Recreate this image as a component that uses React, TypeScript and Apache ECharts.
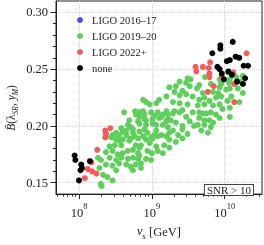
import React, { useEffect, useRef } from "react";
import * as echarts from "echarts";

// ---- axis ticks ----
const xMajorExponents = [8, 9, 10];
const xMinorTickValues = [5e7, 6e7, 7e7, 8e7, 9e7, 2e8, 3e8, 4e8, 5e8, 6e8, 7e8, 8e8, 9e8, 2e9, 3e9, 4e9, 5e9, 6e9, 7e9, 8e9, 9e9, 2e10, 3e10];
const yMajorTicks = [0.15, 0.2, 0.25, 0.3];
const yMinorTicks = [0.16, 0.17, 0.18, 0.19, 0.21, 0.22, 0.23, 0.24, 0.26, 0.27, 0.28, 0.29];
const xRange = [7.684, 10.512]; // log10(v_s / GeV)
const yRange = [0.14, 0.31];

const seriesNames = ["LIGO 2016–17", "LIGO 2019–20", "LIGO 2022+", "none"];
const seriesColors = ["#4b4bf0", "#5fcf5c", "#f45b5b", "#000000"];

// ---- data: [log10(v_s/GeV), B] ----
const ligo1617: number[][] = [];

const ligo1920: number[][] = [
  [8.42, 0.182], [8.49, 0.183], [8.58, 0.183], [8.78, 0.183], [8.83, 0.181],
  [8.37, 0.177], [8.46, 0.178], [8.53, 0.175], [8.60, 0.176], [8.67, 0.178], [8.74, 0.179], [8.81, 0.176],
  [8.26, 0.172], [8.30, 0.170], [8.42, 0.172], [8.51, 0.170], [8.58, 0.172], [8.67, 0.171], [8.74, 0.172], [8.81, 0.171],
  [8.28, 0.163], [8.37, 0.166], [8.46, 0.165], [8.55, 0.167], [8.65, 0.166], [8.71, 0.164], [8.78, 0.166], [8.85, 0.163],
  [8.51, 0.161], [8.74, 0.161],
  [8.33, 0.157], [8.39, 0.155], [8.46, 0.152], [8.30, 0.149], [8.31, 0.147],
  [8.88, 0.223], [8.62, 0.212], [8.78, 0.210], [8.88, 0.213], [8.90, 0.210], [8.99, 0.212], [9.03, 0.209], [9.08, 0.212], [9.20, 0.213], [9.22, 0.210],
  [8.69, 0.205], [8.83, 0.208], [8.90, 0.206], [9.01, 0.206], [9.13, 0.208], [9.22, 0.206],
  [8.67, 0.201], [8.71, 0.199], [8.83, 0.202], [8.92, 0.201], [9.01, 0.202], [9.06, 0.201], [9.15, 0.201], [9.22, 0.199],
  [8.58, 0.198], [8.60, 0.195], [8.51, 0.194], [8.46, 0.192], [8.44, 0.190], [8.55, 0.192], [8.65, 0.192], [8.74, 0.194], [8.76, 0.191], [8.83, 0.195], [8.88, 0.191], [8.94, 0.194], [8.99, 0.190], [9.03, 0.192], [9.08, 0.191], [9.13, 0.192], [9.20, 0.191], [9.24, 0.194],
  [8.51, 0.188], [8.60, 0.188], [8.69, 0.187],
  [9.47, 0.208], [9.26, 0.205], [9.33, 0.203], [9.42, 0.200], [9.52, 0.204], [9.58, 0.200], [9.29, 0.196], [9.36, 0.192], [9.42, 0.197], [9.49, 0.193],
  [8.81, 0.189], [8.92, 0.188], [9.01, 0.189], [9.24, 0.188], [9.33, 0.186], [9.42, 0.189],
  [8.85, 0.183], [8.97, 0.185], [9.06, 0.182], [9.17, 0.183], [9.24, 0.181],
  [8.94, 0.178], [9.08, 0.178], [9.15, 0.176], [8.83, 0.174], [8.92, 0.171], [8.99, 0.170], [8.85, 0.167],
  [9.49, 0.242], [9.38, 0.239], [9.47, 0.238], [9.52, 0.235], [9.33, 0.235], [9.24, 0.234], [9.42, 0.231], [9.47, 0.228], [9.38, 0.227], [9.31, 0.230], [9.20, 0.226], [9.10, 0.223], [9.06, 0.220], [8.97, 0.219], [8.92, 0.221], [9.56, 0.226], [9.29, 0.221], [9.38, 0.220], [9.49, 0.219], [9.31, 0.213], [9.42, 0.214], [9.56, 0.212],
  [9.65, 0.236], [9.81, 0.237], [9.95, 0.237], [9.93, 0.234], [10.07, 0.233], [10.18, 0.233], [10.25, 0.229], [9.70, 0.229], [9.84, 0.230], [9.91, 0.229], [10.02, 0.232],
  [9.65, 0.223], [9.72, 0.225], [9.79, 0.222], [9.88, 0.225], [9.95, 0.226], [10.04, 0.222], [10.09, 0.226], [10.20, 0.221],
  [9.63, 0.218], [9.72, 0.219], [9.84, 0.218], [9.93, 0.219], [9.97, 0.215], [10.07, 0.216],
  [9.65, 0.212], [9.75, 0.211], [9.81, 0.212], [9.88, 0.210], [9.93, 0.207], [10.07, 0.208],
  [9.65, 0.207], [9.72, 0.205], [9.79, 0.205], [9.84, 0.203], [9.63, 0.201], [9.72, 0.201], [9.81, 0.199], [9.68, 0.196], [9.77, 0.194],
  [9.73, 0.243], [9.53, 0.241], [9.93, 0.241], [10.05, 0.247], [10.07, 0.241], [10.25, 0.244], [10.21, 0.239], [9.62, 0.233], [10.06, 0.238], [10.16, 0.243],
  [9.29, 0.211], [9.38, 0.212], [9.70, 0.211], [8.83, 0.212], [9.15, 0.210], [8.81, 0.204], [8.92, 0.205], [9.10, 0.207], [9.20, 0.204],
  [8.90, 0.197], [9.06, 0.196], [8.65, 0.196], [8.74, 0.197], [8.49, 0.190], [8.55, 0.187], [8.71, 0.189], [9.00, 0.176], [8.77, 0.213],
];

const ligo2022: number[][] = [
  [10.30, 0.264], [9.60, 0.252], [9.61, 0.248], [9.70, 0.252], [9.78, 0.251], [9.80, 0.256], [9.79, 0.246], [9.79, 0.243],
  [9.96, 0.243], [10.12, 0.247], [9.85, 0.235], [10.13, 0.237], [10.13, 0.221], [9.77, 0.230],
  [8.08, 0.154], [8.12, 0.162], [8.17, 0.168], [8.18, 0.160], [8.24, 0.158], [8.25, 0.179],
  [8.36, 0.196], [8.43, 0.198], [8.37, 0.193], [8.36, 0.190],
];

const noneDetected: number[][] = [
  [10.11, 0.274], [9.94, 0.271], [9.94, 0.268], [9.83, 0.264], [10.15, 0.261], [10.20, 0.260], [10.07, 0.258], [10.03, 0.257],
  [10.26, 0.253], [10.32, 0.253], [9.90, 0.252], [9.93, 0.250], [10.05, 0.248], [9.96, 0.246], [10.10, 0.245], [10.28, 0.242],
  [9.99, 0.241], [10.17, 0.239], [10.25, 0.237],
  [7.94, 0.174], [7.95, 0.170], [8.03, 0.166], [8.04, 0.163], [8.02, 0.161], [8.00, 0.152], [8.15, 0.169],
];

const FONT = '"Liberation Serif", "Times New Roman", serif';
const INK = "#222222";

export default function App() {
  const ref = useRef<HTMLDivElement>(null);

  useEffect(() => {
    document.body.style.margin = "0";
    const chart = echarts.init(ref.current!, null, { renderer: "svg" });
    const xMajor = xMajorExponents.map((e) => e);
    const xMinor = xMinorTickValues.map((v) => Math.log10(v));
    const dataSets = [ligo1617, ligo1920, ligo2022, noneDetected];

    chart.setOption({
      animation: false,
      grid: { left: 56, right: 2, top: 1, bottom: 38, show: true, borderColor: INK, borderWidth: 1, backgroundColor: "transparent" },
      legend: {
        data: seriesNames,
        orient: "vertical",
        left: 77,
        top: 14,
        padding: 0,
        itemWidth: 6,
        itemHeight: 6,
        itemGap: 4,
        icon: "circle",
        textStyle: { fontFamily: FONT, fontSize: 10.5, color: INK, lineHeight: 12, padding: [0, 0, 0, 4] },
      },
      xAxis: [
        {
          type: "value",
          min: xRange[0],
          max: xRange[1],
          position: "bottom",
          axisLine: { show: true, onZero: false, lineStyle: { color: INK, width: 1 } },
          axisTick: { show: true, customValues: xMajor, length: 5, lineStyle: { color: INK } },
          axisLabel: {
            show: true,
            customValues: xMajor,
            margin: 7,
            formatter: (v: number) => `{b|10}{s|${Math.round(v)}}`,
            rich: {
              b: { fontFamily: FONT, fontSize: 12.5, color: INK, lineHeight: 18, verticalAlign: "bottom" },
              s: { fontFamily: FONT, fontSize: 8.5, color: INK, lineHeight: 8, verticalAlign: "top" },
            },
          },
          splitLine: { show: true, lineStyle: { color: "#d4d4d4", type: "dotted", width: 1 } },
          name: "{i|v}{s|s} [GeV]",
          nameLocation: "middle",
          nameGap: 26,
          nameTextStyle: {
            fontFamily: FONT,
            fontSize: 12.5,
            color: INK,
            rich: {
              i: { fontFamily: FONT, fontSize: 12.5, fontStyle: "italic", color: INK, lineHeight: 16, verticalAlign: "top" },
              s: { fontFamily: FONT, fontSize: 8.5, fontStyle: "italic", color: INK, lineHeight: 10, verticalAlign: "bottom" },
            },
          },
        },
        {
          type: "value",
          min: xRange[0],
          max: xRange[1],
          position: "bottom",
          axisLine: { show: false, onZero: false },
          axisTick: { show: true, customValues: xMinor, length: 2.5, lineStyle: { color: INK } },
          axisLabel: { show: false },
          splitLine: { show: false },
        },
      ],
      yAxis: [
        {
          type: "value",
          min: yRange[0],
          max: yRange[1],
          position: "left",
          axisLine: { show: true, onZero: false, lineStyle: { color: INK, width: 1 } },
          axisTick: { show: true, customValues: yMajorTicks, length: 5.5, lineStyle: { color: INK } },
          axisLabel: {
            show: true,
            customValues: yMajorTicks,
            margin: 8,
            formatter: (v: number) => v.toFixed(2),
            fontFamily: FONT,
            fontSize: 12.5,
            color: INK,
          },
          splitLine: { show: true, lineStyle: { color: "#d4d4d4", type: "dotted", width: 1 } },
        },
        {
          type: "value",
          min: yRange[0],
          max: yRange[1],
          position: "left",
          axisLine: { show: false, onZero: false },
          axisTick: { show: true, customValues: yMinorTicks, length: 3, lineStyle: { color: INK } },
          axisLabel: { show: false },
          splitLine: { show: false },
        },
      ],
      graphic: [
        {
          type: "text",
          x: 12,
          y: 108,
          rotation: Math.PI / 2,
          style: {
            text: "{i|B̄}{n|(λ}{s|SR}{n|, }{i|y}{s|M}{n|)}",
            align: "center",
            verticalAlign: "middle",
            rich: {
              n: { fontFamily: FONT, fontSize: 11.5, fill: INK, lineHeight: 15, verticalAlign: "top" },
              i: { fontFamily: FONT, fontSize: 11.5, fontStyle: "italic", fill: INK, lineHeight: 15, verticalAlign: "top" },
              s: { fontFamily: FONT, fontSize: 7.5, fontStyle: "italic", fill: INK, lineHeight: 9, verticalAlign: "bottom" },
            },
          },
        },
        {
          type: "text",
          right: 10,
          bottom: 49,
          z: 100,
          style: {
            text: "SNR > 10",
            font: `11px ${FONT}`,
            fill: INK,
            backgroundColor: "#ffffff",
            borderColor: "#444444",
            borderWidth: 1,
            padding: [0, 2, 0, 2],
            lineHeight: 10,
          },
        },
      ],
      series: seriesNames.map((name, i) => ({
        name,
        type: "scatter",
        xAxisIndex: 0,
        yAxisIndex: 0,
        data: dataSets[i],
        symbol: "circle",
        symbolSize: 6,
        itemStyle: { color: seriesColors[i], opacity: 1 },
        z: 2 + i,
      })),
    });
    return () => chart.dispose();
  }, []);

  return <div ref={ref} style={{ position: "fixed", left: 0, top: 0, width: 264, height: 245 }} />;
}
